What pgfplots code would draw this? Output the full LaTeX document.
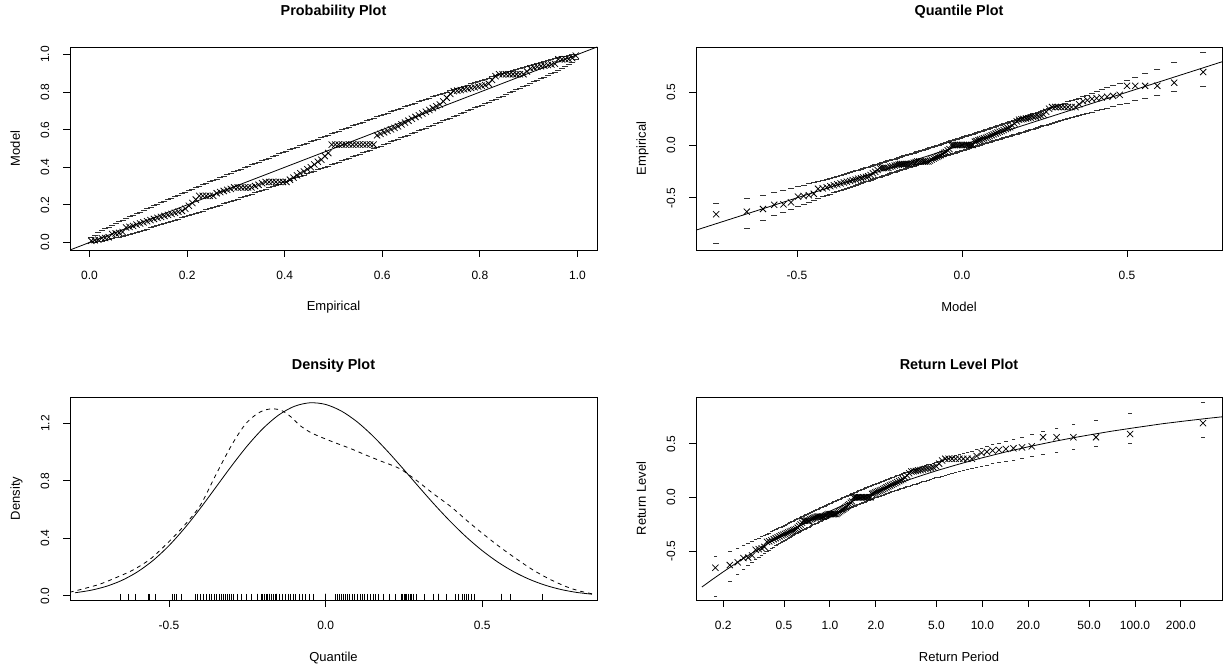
\documentclass[border=0pt]{standalone}
\usepackage{fontspec}
\setmainfont{Liberation Sans}
\usepackage{pgfplots}
\usepackage{pgfplotstable}
\pgfplotsset{compat=1.18}

\pgfplotstableread{
i e m pl pu mq z ql qu T
1 0.0036 0.009 0.0002 0.0262 -0.745 -0.656 -0.928 -0.552 0.1775
2 0.0107 0.012 0.0017 0.0395 -0.652 -0.631 -0.786 -0.506 0.2205
3 0.0179 0.015 0.0044 0.0512 -0.603 -0.606 -0.716 -0.474 0.2484
4 0.0250 0.023 0.0077 0.0622 -0.569 -0.566 -0.669 -0.449 0.2711
5 0.0321 0.024 0.0115 0.0726 -0.541 -0.562 -0.634 -0.429 0.2909
6 0.0393 0.028 0.0156 0.0828 -0.518 -0.543 -0.605 -0.410 0.3089
7 0.0464 0.045 0.0200 0.0926 -0.497 -0.489 -0.580 -0.394 0.3258
8 0.0536 0.048 0.0245 0.1023 -0.480 -0.483 -0.559 -0.379 0.3417
9 0.0607 0.051 0.0292 0.1118 -0.464 -0.476 -0.540 -0.365 0.3569
10 0.0679 0.056 0.0342 0.1200 -0.449 -0.462 -0.522 -0.354 0.3717
11 0.0750 0.080 0.0395 0.1277 -0.436 -0.415 -0.506 -0.344 0.3861
12 0.0821 0.083 0.0447 0.1365 -0.422 -0.410 -0.491 -0.333 0.4001
13 0.0893 0.088 0.0500 0.1452 -0.410 -0.401 -0.477 -0.322 0.4139
14 0.0964 0.095 0.0554 0.1538 -0.399 -0.390 -0.465 -0.312 0.4275
15 0.1036 0.101 0.0609 0.1623 -0.388 -0.381 -0.452 -0.303 0.4410
16 0.1107 0.107 0.0664 0.1708 -0.378 -0.372 -0.441 -0.293 0.4544
17 0.1179 0.113 0.0720 0.1792 -0.368 -0.364 -0.430 -0.284 0.4677
18 0.1250 0.119 0.0777 0.1875 -0.358 -0.355 -0.419 -0.276 0.4809
19 0.1321 0.125 0.0834 0.1958 -0.349 -0.348 -0.409 -0.267 0.4941
20 0.1393 0.131 0.0892 0.2040 -0.339 -0.340 -0.399 -0.259 0.5073
21 0.1464 0.136 0.0950 0.2122 -0.331 -0.333 -0.390 -0.251 0.5205
22 0.1536 0.141 0.1009 0.2203 -0.322 -0.327 -0.381 -0.244 0.5337
23 0.1607 0.147 0.1068 0.2284 -0.314 -0.320 -0.373 -0.236 0.5470
24 0.1679 0.152 0.1128 0.2364 -0.306 -0.314 -0.364 -0.228 0.5603
25 0.1750 0.158 0.1188 0.2444 -0.299 -0.307 -0.356 -0.221 0.5737
26 0.1821 0.163 0.1248 0.2524 -0.291 -0.302 -0.348 -0.215 0.5872
27 0.1893 0.168 0.1309 0.2603 -0.284 -0.296 -0.340 -0.208 0.6008
28 0.1964 0.180 0.1370 0.2682 -0.277 -0.283 -0.332 -0.201 0.6145
29 0.2036 0.195 0.1431 0.2761 -0.270 -0.268 -0.325 -0.194 0.6282
30 0.2107 0.210 0.1493 0.2839 -0.263 -0.254 -0.318 -0.187 0.6422
31 0.2179 0.228 0.1555 0.2917 -0.256 -0.236 -0.310 -0.181 0.6562
32 0.2250 0.248 0.1617 0.2995 -0.249 -0.218 -0.303 -0.174 0.6704
33 0.2321 0.248 0.1679 0.3072 -0.242 -0.218 -0.296 -0.168 0.6847
34 0.2393 0.248 0.1742 0.3149 -0.236 -0.218 -0.289 -0.162 0.6993
35 0.2464 0.248 0.1805 0.3226 -0.229 -0.218 -0.283 -0.156 0.7139
36 0.2536 0.248 0.1868 0.3303 -0.223 -0.218 -0.276 -0.150 0.7288
37 0.2607 0.262 0.1932 0.3379 -0.217 -0.206 -0.270 -0.144 0.7439
38 0.2679 0.268 0.1996 0.3455 -0.211 -0.201 -0.263 -0.138 0.7591
39 0.2750 0.274 0.2060 0.3531 -0.204 -0.195 -0.257 -0.132 0.7746
40 0.2821 0.280 0.2124 0.3607 -0.198 -0.190 -0.251 -0.126 0.7903
41 0.2893 0.285 0.2189 0.3682 -0.192 -0.186 -0.245 -0.120 0.8062
42 0.2964 0.293 0.2253 0.3758 -0.187 -0.180 -0.239 -0.114 0.8224
43 0.3036 0.293 0.2318 0.3833 -0.181 -0.180 -0.233 -0.109 0.8388
44 0.3107 0.293 0.2383 0.3908 -0.175 -0.180 -0.227 -0.103 0.8555
45 0.3179 0.293 0.2449 0.3982 -0.169 -0.180 -0.221 -0.097 0.8725
46 0.3250 0.293 0.2514 0.4057 -0.163 -0.180 -0.215 -0.092 0.8897
47 0.3321 0.293 0.2580 0.4131 -0.157 -0.180 -0.210 -0.086 0.9073
48 0.3393 0.300 0.2646 0.4205 -0.152 -0.174 -0.204 -0.081 0.9252
49 0.3464 0.307 0.2712 0.4279 -0.146 -0.168 -0.198 -0.075 0.9433
50 0.3536 0.315 0.2779 0.4352 -0.140 -0.162 -0.192 -0.070 0.9619
51 0.3607 0.322 0.2845 0.4426 -0.135 -0.156 -0.186 -0.064 0.9807
52 0.3679 0.322 0.2912 0.4499 -0.129 -0.156 -0.181 -0.059 0.9999
53 0.3750 0.322 0.2979 0.4572 -0.124 -0.156 -0.176 -0.053 1.0195
54 0.3821 0.322 0.3046 0.4645 -0.118 -0.156 -0.170 -0.048 1.0396
55 0.3893 0.322 0.3113 0.4718 -0.113 -0.156 -0.165 -0.042 1.0600
56 0.3964 0.322 0.3180 0.4790 -0.108 -0.156 -0.160 -0.037 1.0808
57 0.4036 0.322 0.3248 0.4863 -0.102 -0.156 -0.154 -0.031 1.1021
58 0.4107 0.334 0.3316 0.4935 -0.097 -0.147 -0.149 -0.026 1.1238
59 0.4179 0.345 0.3384 0.5007 -0.092 -0.138 -0.143 -0.021 1.1460
60 0.4250 0.357 0.3452 0.5078 -0.086 -0.128 -0.138 -0.015 1.1687
61 0.4321 0.368 0.3520 0.5150 -0.081 -0.120 -0.132 -0.010 1.1919
62 0.4393 0.378 0.3589 0.5222 -0.075 -0.113 -0.127 -0.005 1.2157
63 0.4464 0.390 0.3657 0.5293 -0.070 -0.104 -0.122 0.001 1.2400
64 0.4536 0.400 0.3726 0.5364 -0.065 -0.096 -0.117 0.006 1.2649
65 0.4607 0.415 0.3795 0.5435 -0.059 -0.085 -0.111 0.012 1.2904
66 0.4679 0.430 0.3864 0.5506 -0.054 -0.074 -0.106 0.017 1.3165
67 0.4750 0.440 0.3934 0.5577 -0.049 -0.066 -0.101 0.022 1.3433
68 0.4821 0.460 0.4003 0.5647 -0.043 -0.051 -0.096 0.028 1.3708
69 0.4893 0.476 0.4073 0.5717 -0.038 -0.039 -0.091 0.033 1.3990
70 0.4964 0.521 0.4143 0.5787 -0.032 0.000 -0.085 0.039 1.4279
71 0.5036 0.521 0.4213 0.5857 -0.027 0.000 -0.080 0.044 1.4577
72 0.5107 0.521 0.4283 0.5927 -0.022 0.000 -0.075 0.050 1.4882
73 0.5179 0.521 0.4353 0.5997 -0.016 0.000 -0.070 0.055 1.5196
74 0.5250 0.521 0.4424 0.6066 -0.011 0.000 -0.064 0.060 1.5520
75 0.5321 0.521 0.4494 0.6136 -0.005 0.000 -0.059 0.066 1.5852
76 0.5393 0.521 0.4565 0.6205 0.000 0.000 -0.054 0.071 1.6194
77 0.5464 0.521 0.4636 0.6274 0.005 0.000 -0.048 0.077 1.6547
78 0.5536 0.521 0.4707 0.6343 0.011 0.000 -0.043 0.082 1.6910
79 0.5607 0.521 0.4778 0.6411 0.016 0.000 -0.038 0.088 1.7285
80 0.5679 0.521 0.4850 0.6480 0.022 0.000 -0.032 0.093 1.7672
81 0.5750 0.521 0.4922 0.6548 0.028 0.000 -0.027 0.099 1.8071
82 0.5821 0.521 0.4993 0.6616 0.033 0.000 -0.022 0.104 1.8483
83 0.5893 0.570 0.5065 0.6684 0.039 0.032 -0.016 0.110 1.8909
84 0.5964 0.578 0.5138 0.6752 0.044 0.038 -0.011 0.116 1.9350
85 0.6036 0.586 0.5210 0.6820 0.050 0.045 -0.005 0.122 1.9806
86 0.6107 0.594 0.5282 0.6887 0.055 0.051 0.000 0.127 2.0279
87 0.6179 0.602 0.5355 0.6954 0.061 0.057 0.006 0.133 2.0768
88 0.6250 0.610 0.5428 0.7021 0.067 0.063 0.011 0.139 2.1277
89 0.6321 0.618 0.5501 0.7088 0.073 0.069 0.017 0.145 2.1804
90 0.6393 0.628 0.5574 0.7155 0.078 0.077 0.022 0.151 2.2351
91 0.6464 0.638 0.5648 0.7221 0.084 0.085 0.028 0.157 2.2921
92 0.6536 0.648 0.5721 0.7288 0.090 0.093 0.034 0.163 2.3513
93 0.6607 0.658 0.5795 0.7354 0.096 0.101 0.040 0.170 2.4130
94 0.6679 0.668 0.5869 0.7420 0.102 0.110 0.045 0.176 2.4772
95 0.6750 0.677 0.5944 0.7486 0.108 0.118 0.051 0.182 2.5443
96 0.6821 0.686 0.6018 0.7551 0.114 0.125 0.056 0.188 2.6143
97 0.6893 0.695 0.6092 0.7617 0.120 0.133 0.062 0.195 2.6875
98 0.6964 0.705 0.6167 0.7682 0.126 0.142 0.068 0.201 2.7640
99 0.7036 0.715 0.6242 0.7747 0.133 0.151 0.074 0.208 2.8443
100 0.7107 0.725 0.6318 0.7811 0.139 0.160 0.080 0.214 2.9284
101 0.7179 0.734 0.6393 0.7876 0.146 0.168 0.086 0.221 3.0168
102 0.7250 0.750 0.6469 0.7940 0.152 0.184 0.093 0.228 3.1097
103 0.7321 0.770 0.6545 0.8004 0.159 0.203 0.099 0.234 3.2074
104 0.7393 0.790 0.6621 0.8068 0.166 0.224 0.105 0.242 3.3105
105 0.7464 0.805 0.6697 0.8132 0.173 0.240 0.111 0.249 3.4193
106 0.7536 0.808 0.6774 0.8195 0.180 0.243 0.118 0.256 3.5344
107 0.7607 0.811 0.6851 0.8258 0.186 0.246 0.124 0.263 3.6563
108 0.7679 0.815 0.6928 0.8321 0.194 0.251 0.131 0.271 3.7857
109 0.7750 0.818 0.7005 0.8383 0.201 0.254 0.138 0.279 3.9233
110 0.7821 0.822 0.7083 0.8446 0.208 0.259 0.145 0.287 4.0697
111 0.7893 0.826 0.7161 0.8507 0.216 0.264 0.152 0.295 4.2260
112 0.7964 0.830 0.7240 0.8569 0.223 0.269 0.159 0.303 4.3933
113 0.8036 0.834 0.7318 0.8630 0.231 0.274 0.166 0.311 4.5727
114 0.8107 0.838 0.7397 0.8691 0.239 0.279 0.174 0.320 4.7655
115 0.8179 0.845 0.7476 0.8752 0.247 0.288 0.181 0.328 4.9734
116 0.8250 0.865 0.7556 0.8813 0.255 0.314 0.189 0.337 5.1983
117 0.8321 0.885 0.7636 0.8872 0.264 0.343 0.197 0.347 5.4422
118 0.8393 0.895 0.7717 0.8932 0.273 0.359 0.205 0.356 5.7078
119 0.8464 0.895 0.7797 0.8991 0.283 0.359 0.213 0.366 5.9977
120 0.8536 0.895 0.7879 0.9050 0.292 0.359 0.221 0.376 6.3163
121 0.8607 0.895 0.7960 0.9108 0.301 0.359 0.230 0.387 6.6671
122 0.8679 0.895 0.8043 0.9166 0.311 0.359 0.239 0.398 7.0557
123 0.8750 0.895 0.8125 0.9223 0.321 0.359 0.248 0.409 7.4884
124 0.8821 0.895 0.8208 0.9280 0.332 0.359 0.257 0.420 7.9745
125 0.8893 0.895 0.8292 0.9336 0.344 0.359 0.268 0.432 8.5222
126 0.8964 0.910 0.8377 0.9391 0.355 0.385 0.278 0.445 9.1458
127 0.9036 0.925 0.8462 0.9446 0.367 0.414 0.289 0.459 9.8619
128 0.9107 0.930 0.8548 0.9500 0.380 0.424 0.300 0.473 10.693
129 0.9179 0.935 0.8635 0.9553 0.394 0.436 0.312 0.489 11.667
130 0.9250 0.938 0.8723 0.9605 0.408 0.442 0.324 0.505 12.827
131 0.9321 0.941 0.8800 0.9658 0.423 0.450 0.335 0.523 14.231
132 0.9393 0.944 0.8882 0.9708 0.440 0.457 0.348 0.542 15.967
133 0.9464 0.947 0.8977 0.9755 0.458 0.465 0.363 0.563 18.162
134 0.9536 0.951 0.9074 0.9800 0.478 0.475 0.380 0.585 21.035
135 0.9607 0.975 0.9172 0.9844 0.500 0.560 0.398 0.611 24.950
136 0.9679 0.975 0.9274 0.9885 0.525 0.560 0.419 0.641 30.609
137 0.9750 0.975 0.9378 0.9923 0.555 0.560 0.442 0.676 39.494
138 0.9821 0.975 0.9488 0.9956 0.592 0.560 0.470 0.720 55.494
139 0.9893 0.981 0.9605 0.9983 0.643 0.590 0.505 0.781 92.851
140 0.9964 0.994 0.9738 0.9998 0.731 0.691 0.555 0.881 279.33
}\gev

\pgfplotstableread{
x y
-0.80 0.0204
-0.75 0.0376
-0.70 0.0653
-0.65 0.1073
-0.60 0.1671
-0.55 0.2472
-0.50 0.3492
-0.45 0.4713
-0.40 0.6093
-0.35 0.7571
-0.30 0.9055
-0.25 1.0448
-0.20 1.1655
-0.15 1.2593
-0.10 1.3200
-0.05 1.3447
0.00 1.3330
0.05 1.2873
0.10 1.2125
0.15 1.1147
0.20 1.0008
0.25 0.8778
0.30 0.7519
0.35 0.6287
0.40 0.5127
0.45 0.4069
0.50 0.3136
0.55 0.2336
0.60 0.1674
0.65 0.1144
0.70 0.0736
0.75 0.0437
0.80 0.0232
0.85 0.0104
}\gevdens

\pgfplotstableread{
x y
-0.817 0.024
-0.77 0.050
-0.72 0.081
-0.67 0.125
-0.615 0.179
-0.56 0.255
-0.508 0.360
-0.455 0.480
-0.40 0.630
-0.35 0.845
-0.30 1.050
-0.26 1.185
-0.23 1.250
-0.20 1.290
-0.168 1.303
-0.14 1.290
-0.11 1.245
-0.083 1.188
-0.05 1.140
-0.02 1.110
0.023 1.072
0.08 1.025
0.13 0.979
0.18 0.935
0.236 0.886
0.289 0.805
0.343 0.712
0.40 0.620
0.449 0.527
0.50 0.435
0.555 0.341
0.61 0.255
0.662 0.179
0.715 0.115
0.768 0.063
0.81 0.033
0.853 0.012
}\kdens

\pgfplotstableread{
T z
0.1448 -0.836
0.17 -0.764
0.2 -0.694
0.25 -0.601
0.3 -0.530
0.4 -0.422
0.5 -0.345
0.6 -0.284
0.7 -0.236
0.85 -0.177
1 -0.129
1.2 -0.079
1.5 -0.020
2 0.052
3 0.144
4 0.204
5 0.248
7 0.309
10 0.369
15 0.431
20 0.471
30 0.523
40 0.557
50 0.581
70 0.616
100 0.649
150 0.685
200 0.707
300 0.736
400 0.755
}\rlcurve

\begin{document}
\begin{tikzpicture}
\useasboundingbox[fill=white] (0,0) rectangle (1226bp,671bp);
\pgfplotsset{
  rplot/.style={
    scale only axis, anchor=south west,
    axis line style={line width=0.9bp},
    tick align=outside, tick pos=left,
    major tick length=7bp,
    every tick/.style={black, line width=0.9bp},
    tick label style={font=\fontsize{12bp}{14bp}\selectfont},
    xticklabel style={inner sep=0pt, anchor=north, yshift=-13.5bp},
    yticklabel style={inner sep=0pt, xshift=-13.5bp, rotate=90, anchor=south},
    label style={font=\fontsize{13bp}{15bp}\selectfont},
    title style={font=\fontsize{14.4bp}{17bp}\selectfont\bfseries, anchor=base, yshift=-6pt},
    xlabel style={at={(axis description cs:0.5,-0.3005)}, anchor=base},
    ylabel style={at={(axis description cs:-0.0949,0.5)}, anchor=base},
  },
  pts/.style={only marks, mark=x, mark size=4.4bp, black, mark options={line width=0.75bp}},
  ci/.style={only marks, mark=-, mark size=3bp, black!80, mark options={line width=0.8bp}},
  cis/.style={only marks, mark=-, mark size=1.8bp, black!80, mark options={line width=0.8bp}},
}

% Probability plot
\begin{axis}[rplot, at={(70bp,421bp)}, width=527bp, height=203bp,
  xmin=-0.04, xmax=1.04, ymin=-0.04, ymax=1.04,
  xtick={0,0.2,0.4,0.6,0.8,1}, xticklabels={0.0,0.2,0.4,0.6,0.8,1.0},
  ytick={0,0.2,0.4,0.6,0.8,1}, yticklabels={0.0,0.2,0.4,0.6,0.8,1.0},
  title={Probability Plot}, title style={at={(axis description cs:0.5,1.155)}},
  xlabel={Empirical}, ylabel={Model}]
\addplot[ci] table[x=e, y=pl]{\gev};
\addplot[ci] table[x=e, y=pu]{\gev};
\addplot[pts] table[x=e, y=m]{\gev};
\addplot[black, line width=0.8bp] coordinates {(-0.1,-0.1) (1.1,1.1)};
\end{axis}

% Quantile plot
\begin{axis}[rplot, at={(696bp,421bp)}, width=526bp, height=203bp,
  xmin=-0.806, xmax=0.788, ymin=-0.994, ymax=0.928,
  xtick={-0.5,0,0.5}, xticklabels={-0.5,0.0,0.5},
  ytick={-0.5,0,0.5}, yticklabels={-0.5,0.0,0.5},
  title={Quantile Plot}, title style={at={(axis description cs:0.5,1.155)}},
  xlabel={Model}, ylabel={Empirical},
  ylabel style={at={(axis description cs:-0.0951,0.5)}}]
\addplot[ci] table[x=mq, y=ql]{\gev};
\addplot[ci] table[x=mq, y=qu]{\gev};
\addplot[pts] table[x=mq, y=z]{\gev};
\addplot[black, line width=0.8bp] coordinates {(-1,-1) (1,1)};
\end{axis}

% Density plot
\begin{axis}[rplot, at={(70bp,71bp)}, width=527bp, height=203bp,
  xmin=-0.816, xmax=0.866, ymin=-0.03, ymax=1.385,
  xtick={-0.5,0,0.5}, xticklabels={-0.5,0.0,0.5},
  ytick={0,0.4,0.8,1.2}, yticklabels={0.0,0.4,0.8,1.2},
  title={Density Plot}, title style={at={(axis description cs:0.5,1.135)}},
  xlabel={Quantile}, ylabel={Density}]
\addplot[black, line width=0.8bp, smooth] table[x=x, y=y]{\gevdens};
\addplot[black, line width=0.8bp, smooth, dash pattern=on 4bp off 4bp] table[x=x, y=y]{\kdens};
\addplot[only marks, mark=|, mark size=3bp, black, mark options={line width=0.7bp}] table[x=z, y expr=-0.009]{\gev};
\end{axis}

% Return level plot
\begin{axis}[rplot, at={(696bp,71bp)}, width=526bp, height=203bp,
  xmode=log, log basis x=10, xmin=0.1324, xmax=372, ymin=-0.957, ymax=0.935,
  xtick={0.2,0.5,1,2,5,10,20,50,100,200},
  xticklabels={0.2,0.5,1.0,2.0,5.0,10.0,20.0,50.0,100.0,200.0},
  ytick={-0.5,0,0.5}, yticklabels={-0.5,0.0,0.5},
  title={Return Level Plot}, title style={at={(axis description cs:0.5,1.135)}},
  xlabel={Return Period}, ylabel={Return Level},
  ylabel style={at={(axis description cs:-0.0951,0.5)}}]
\addplot[cis] table[x=T, y=ql]{\gev};
\addplot[cis] table[x=T, y=qu]{\gev};
\addplot[pts] table[x=T, y=z]{\gev};
\addplot[black, line width=0.8bp] table[x=T, y=z]{\rlcurve};
\end{axis}
\end{tikzpicture}
\end{document}
